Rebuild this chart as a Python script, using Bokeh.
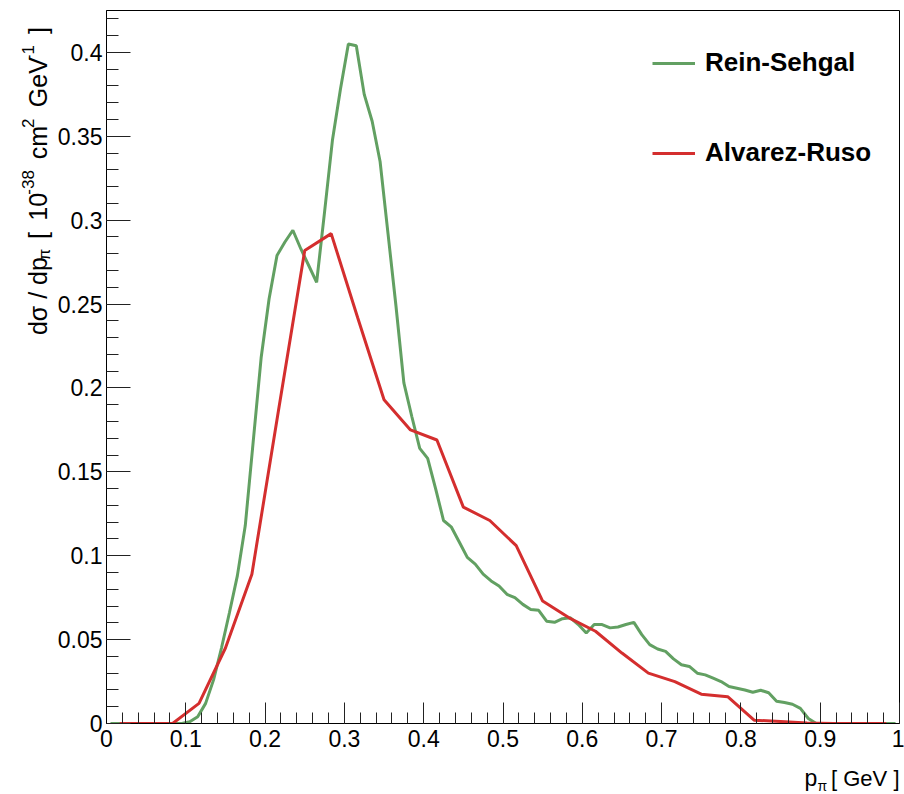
from math import pi
from bokeh.plotting import figure
from bokeh.layouts import row, column
from bokeh.models import (ColumnDataSource, Range1d, FixedTicker, CustomJSTickFormatter,
                          Label, Legend, LegendItem)
from bokeh.embed import file_html
from bokeh.resources import INLINE

# ---------------- data ----------------
# Rein-Sehgal: 100 bins of width 0.01 on [0, 1]
rs_bin_width = 0.01
rs_values = [
    0, 0, 0, 0, 0, 0, 0, 0, 0, 0,
    0.001, 0.004, 0.012, 0.026, 0.045, 0.066, 0.088, 0.118, 0.168, 0.218,
    0.253, 0.279, 0.287, 0.294, 0.283, 0.273, 0.263, 0.305, 0.348, 0.378,
    0.405, 0.404, 0.375, 0.359, 0.335, 0.292, 0.249, 0.203, 0.183, 0.164,
    0.158, 0.140, 0.121, 0.117, 0.108, 0.099, 0.095, 0.089, 0.085, 0.082,
    0.077, 0.075, 0.071, 0.068, 0.0675, 0.061, 0.0603, 0.0625, 0.063, 0.059,
    0.054, 0.059, 0.059, 0.057, 0.0575, 0.059, 0.0603, 0.053, 0.047, 0.0444,
    0.043, 0.0385, 0.035, 0.034, 0.030, 0.029, 0.027, 0.025, 0.022, 0.021,
    0.020, 0.0186, 0.0198, 0.0183, 0.0133, 0.0125, 0.0115, 0.009, 0.003, 0,
    0, 0, 0, 0, 0, 0, 0, 0, 0, 0,
]
rs_centres = [(i + 0.5) * rs_bin_width for i in range(len(rs_values))]

# Alvarez-Ruso: 30 bins of width 1/30 on [0, 1]
ar_bin_width = 1.0 / 30.0
ar_values = [
    0, 0, 0, 0.012, 0.045, 0.089, 0.186, 0.282, 0.292, 0.242,
    0.193, 0.175, 0.169, 0.129, 0.121, 0.106, 0.073, 0.063, 0.055, 0.042,
    0.030, 0.025, 0.0175, 0.016, 0.002, 0.0012, 0.0003, 0, 0, 0,
]
ar_centres = [(i + 0.5) * ar_bin_width for i in range(len(ar_values))]

series_names = ["Rein-Sehgal", "Alvarez-Ruso"]

x_ticks = [0, 0.1, 0.2, 0.3, 0.4, 0.5, 0.6, 0.7, 0.8, 0.9, 1.0]
x_tick_labels = ["0", "0.1", "0.2", "0.3", "0.4", "0.5", "0.6", "0.7", "0.8", "0.9", "1"]
x_minor_ticks = [round(0.02 * i, 2) for i in range(51)]
y_ticks = [0, 0.05, 0.1, 0.15, 0.2, 0.25, 0.3, 0.35, 0.4]
y_tick_labels = ["0", "0.05", "0.1", "0.15", "0.2", "0.25", "0.3", "0.35", "0.4"]
y_minor_ticks = [round(0.01 * i, 2) for i in range(43)]

x_range = (0, 1)
y_range = (0, 0.425)

# ---------------- style ----------------
GREEN = "#62a062"
RED = "#d42e2e"
FONT = "Liberation Sans"

PAGE_W = 904
TITLE_W = 54          # strip holding the rotated y title
MAIN_H = 760
XT_H = 32             # strip holding the x title


def text_strip(width, height):
    f = figure(width=width, height=height, x_range=Range1d(0, width), y_range=Range1d(0, height),
               output_backend="svg", toolbar_location=None,
               x_axis_location=None, y_axis_location=None, min_border=0)
    f.outline_line_color = None
    f.grid.visible = False
    f.background_fill_color = "white"
    f.border_fill_color = "white"
    return f


# ---------------- main plot ----------------
p = figure(width=PAGE_W - TITLE_W, height=MAIN_H,
           x_range=Range1d(*x_range), y_range=Range1d(*y_range),
           output_backend="svg", toolbar_location=None,
           min_border_left=50, min_border_right=5, min_border_top=10, min_border_bottom=37)
p.background_fill_color = "white"
p.border_fill_color = "white"
p.grid.visible = False
p.outline_line_color = "black"
p.outline_line_width = 1

fmt_code = """
let best = 0;
for (let i = 0; i < tvals.length; i++) {
  if (Math.abs(tvals[i] - tick) < Math.abs(tvals[best] - tick)) best = i;
}
return tlabels[best];
"""
p.xaxis.ticker = FixedTicker(ticks=x_ticks, minor_ticks=x_minor_ticks)
p.yaxis.ticker = FixedTicker(ticks=y_ticks, minor_ticks=y_minor_ticks)
p.xaxis.formatter = CustomJSTickFormatter(args=dict(tvals=x_ticks, tlabels=x_tick_labels), code=fmt_code)
p.yaxis.formatter = CustomJSTickFormatter(args=dict(tvals=y_ticks, tlabels=y_tick_labels), code=fmt_code)

for ax in (p.xaxis[0], p.yaxis[0]):
    ax.axis_line_color = "black"
    ax.axis_line_width = 1
    ax.major_tick_line_color = "#222222"
    ax.minor_tick_line_color = "#222222"
    ax.major_tick_line_width = 1
    ax.minor_tick_line_width = 1
    ax.major_tick_out = 0
    ax.minor_tick_out = 0
    ax.major_label_text_font = FONT
    ax.major_label_text_font_size = "23px"
    ax.major_label_text_color = "black"
p.xaxis.major_tick_in = 21
p.xaxis.minor_tick_in = 11
p.yaxis.major_tick_in = 24
p.yaxis.minor_tick_in = 12
p.xaxis.major_label_standoff = 6
p.yaxis.major_label_standoff = 4

src_rs = ColumnDataSource(dict(x=rs_centres, y=rs_values))
src_ar = ColumnDataSource(dict(x=ar_centres, y=ar_values))
g = p.line(x="x", y="y", source=src_rs, line_color=GREEN, line_width=3)
r = p.line(x="x", y="y", source=src_ar, line_color=RED, line_width=3)

legend = Legend(items=[LegendItem(label=series_names[0], renderers=[g]),
                       LegendItem(label=series_names[1], renderers=[r])],
                location=(546, 555), border_line_color=None, background_fill_alpha=0,
                padding=0, margin=0, spacing=59, glyph_width=43, glyph_height=20,
                label_height=20, label_standoff=10,
                label_text_font=FONT, label_text_font_style="bold",
                label_text_font_size="26px", label_text_color="black")
p.add_layout(legend)

# ---------------- y axis title strip (rotated, top-aligned like ROOT) ----------------
yt = text_strip(TITLE_W, MAIN_H)
MAIN_PX = 25.0
SMALL = "17px"
GAP = 0.5          # gap (em) where the title has a space
base_x = 37.5      # compensates the rotated-text anchor offset seen in the render
pieces = [  # text, kind, advance (em of the main font), gap before
    ("d\u03c3 / dp", "n", 3.102, 0),
    ("\u03c0", "sub", 0.42, 0.15),
    ("[", "n", 0.278, 1),
    ("10", "n", 1.112, 1),
    ("-38", "sup", 1.01, 0),
    ("cm", "n", 1.333, 1),
    ("2", "sup", 0.389, 0),
    ("GeV", "n", 2.0, 1),
    ("-1", "sup", 0.622, 0),
    ("]", "n", 0.278, 1),
]
pos = 346.0
for text, kind, adv, gap in pieces:
    pos -= gap * GAP * MAIN_PX
    bx = base_x + (6 if kind == "sub" else (-10 if kind == "sup" else 0))
    yt.add_layout(Label(x=bx, y=MAIN_H - pos, text=text, angle=pi / 2,
                        text_align="left", text_baseline="alphabetic",
                        text_font=FONT, text_font_size=f"{MAIN_PX:.0f}px" if kind == "n" else SMALL,
                        text_color="black"))
    pos -= adv * MAIN_PX

# ---------------- x axis title strip ----------------
xt = text_strip(PAGE_W, XT_H)
xt.add_layout(Label(x=804, y=MAIN_H + XT_H - 777, text="p", text_align="left",
                    text_baseline="alphabetic", text_font=FONT, text_font_size="23px",
                    text_color="black"))
xt.add_layout(Label(x=817, y=MAIN_H + XT_H - 785, text="\u03c0", text_align="left",
                    text_baseline="alphabetic", text_font=FONT, text_font_size="14px",
                    text_color="black"))
xt.add_layout(Label(x=899, y=MAIN_H + XT_H - 778, text="[ GeV ]", text_align="right",
                    text_baseline="alphabetic", text_font=FONT, text_font_size="22px",
                    text_color="black"))

layout = column(row(yt, p, spacing=0), xt, spacing=0)
open("out.html", "w").write(file_html(layout, INLINE))
